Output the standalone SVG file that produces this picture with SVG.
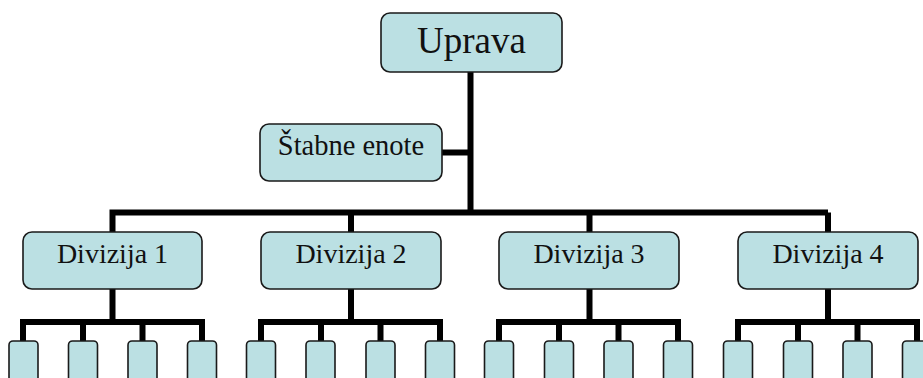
<svg xmlns="http://www.w3.org/2000/svg" width="923" height="378" viewBox="0 0 923 378">
  <style>
    .box { fill: #bbe0e3; stroke: #1a1a1a; stroke-width: 1.6; }
    .ln { stroke: #000; stroke-width: 6; fill: none; stroke-linecap: butt; }
    .lbl { fill: #111; text-anchor: middle; font-family: "Liberation Serif", "Times New Roman", Times, Tinos, "DejaVu Serif", "Noto Serif", FreeSerif, serif; }
  </style>
  <rect width="923" height="378" fill="#ffffff"/>

  <!-- connectors -->
  <g id="connectors">
    <path class="ln" d="M470.5,72 V215"/>
    <path class="ln" d="M442,152.5 H473"/>
    <path class="ln" d="M112.5,212.5 H828 M112.5,209.5 V232 M351,212.5 V232 M589.5,212.5 V232 M828,212.5 V232"/>
    <!-- division 1 -->
    <path class="ln" d="M112.5,289 V322 M23,322 H202 M23,319 V342 M83,322 V342 M142.5,322 V342 M202,319 V342"/>
    <!-- division 2 -->
    <path class="ln" d="M351,289 V322 M261,322 H440 M261,319 V342 M321,322 V342 M380.5,322 V342 M440,319 V342"/>
    <!-- division 3 -->
    <path class="ln" d="M589.5,289 V322 M499,322 H678 M499,319 V342 M559,322 V342 M618.5,322 V342 M678,319 V342"/>
    <!-- division 4 -->
    <path class="ln" d="M828,289 V322 M738,322 H917 M738,319 V342 M798,322 V342 M857.5,322 V342 M917,319 V342"/>
  </g>

  <g id="uprava">
    <rect class="box" x="381" y="13" width="181" height="59" rx="9"/>
    <text class="lbl" x="471.5" y="53" font-size="37">Uprava</text>
  </g>

  <g id="stabne-enote">
    <rect class="box" x="260" y="124" width="182" height="57" rx="9"/>
    <text class="lbl" x="351" y="155" font-size="28.5">Štabne enote</text>
  </g>

  <g id="divizija-1">
    <rect class="box" x="23" y="232" width="179" height="57" rx="9"/>
    <text class="lbl" x="112.5" y="263" font-size="28">Divizija 1</text>
  </g>
  <g id="divizija-2">
    <rect class="box" x="261" y="232" width="180" height="57" rx="9"/>
    <text class="lbl" x="351" y="263" font-size="28">Divizija 2</text>
  </g>
  <g id="divizija-3">
    <rect class="box" x="499" y="232" width="180" height="57" rx="9"/>
    <text class="lbl" x="589" y="263" font-size="28">Divizija 3</text>
  </g>
  <g id="divizija-4">
    <rect class="box" x="738" y="232" width="180" height="57" rx="9"/>
    <text class="lbl" x="828" y="263" font-size="28">Divizija 4</text>
  </g>

  <!-- unit boxes under each division -->
  <g id="enote-1">
    <rect class="box" x="9" y="341" width="29" height="50" rx="4"/>
    <rect class="box" x="68.5" y="341" width="29" height="50" rx="4"/>
    <rect class="box" x="128" y="341" width="29" height="50" rx="4"/>
    <rect class="box" x="187.5" y="341" width="29" height="50" rx="4"/>
  </g>
  <g id="enote-2">
    <rect class="box" x="246.5" y="341" width="29" height="50" rx="4"/>
    <rect class="box" x="306" y="341" width="29" height="50" rx="4"/>
    <rect class="box" x="366" y="341" width="29" height="50" rx="4"/>
    <rect class="box" x="425.5" y="341" width="29" height="50" rx="4"/>
  </g>
  <g id="enote-3">
    <rect class="box" x="484.5" y="341" width="29" height="50" rx="4"/>
    <rect class="box" x="544.5" y="341" width="29" height="50" rx="4"/>
    <rect class="box" x="604" y="341" width="29" height="50" rx="4"/>
    <rect class="box" x="663.5" y="341" width="29" height="50" rx="4"/>
  </g>
  <g id="enote-4">
    <rect class="box" x="723.5" y="341" width="29" height="50" rx="4"/>
    <rect class="box" x="783.5" y="341" width="29" height="50" rx="4"/>
    <rect class="box" x="843" y="341" width="29" height="50" rx="4"/>
    <rect class="box" x="902.5" y="341" width="29" height="50" rx="4"/>
  </g>
</svg>
